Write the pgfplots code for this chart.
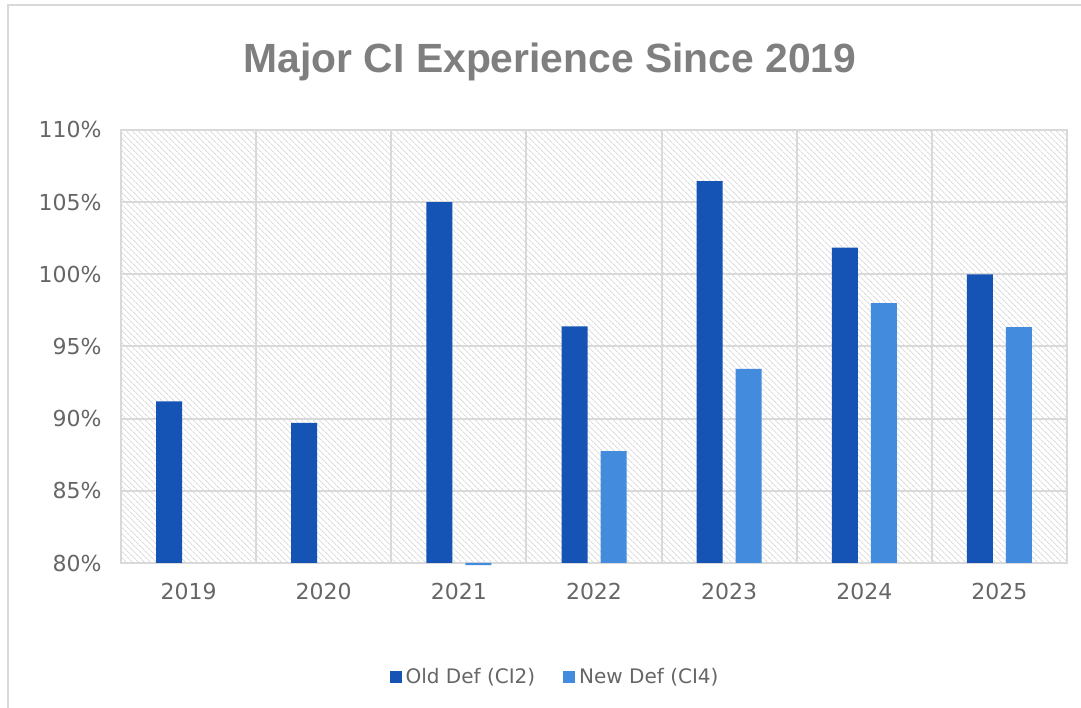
\documentclass[border=0pt]{standalone}
\usepackage{fontspec}
\setmainfont{Liberation Sans}
\newfontfamily\tickfont{DejaVu Sans}
\usepackage{pgfplots}
\usepackage{pgfplotstable}
\pgfplotsset{compat=1.18}
\usetikzlibrary{patterns.meta}
\definecolor{olddef}{HTML}{1554B4}
\definecolor{newdef}{HTML}{428BDD}
\definecolor{tickgray}{HTML}{666666}
\definecolor{titlegray}{HTML}{7F7F7F}
\definecolor{gridgray}{HTML}{D9D9D9}

\pgfplotstableread{
x v
0 91.2
1 89.7
2 105.0
3 96.4
4 106.45
5 101.85
6 100.0
}\olddata
\pgfplotstableread{
x v
2 79.85
3 87.75
4 93.45
5 98.0
6 96.35
}\newdata

\begin{document}
\begin{tikzpicture}
\useasboundingbox (0pt,0pt) rectangle (1081pt,708pt);
\fill[white] (0pt,0pt) rectangle (1081pt,708pt);
\draw[gridgray, line width=2pt] (8pt,-5pt) -- (8pt,703pt) -- (1090pt,703pt);
\node[font={\bfseries\fontsize{40.8pt}{48pt}\selectfont}, text=titlegray, anchor=base] at (550pt,635pt) {Major CI Experience Since 2019};
\begin{axis}[
  at={(121pt,145pt)}, anchor=south west,
  width=946pt, height=433pt, scale only axis,
  xmin=-0.5, xmax=6.5, ymin=0, ymax=30,
  ytick={0,5,...,30},
  /pgf/number format/assume math mode=true,
  yticklabel={\pgfmathparse{\tick+80}\pgfmathprintnumber{\pgfmathresult}\%},
  xtick={0,...,6},
  xticklabels={2019,2020,2021,2022,2023,2024,2025},
  minor xtick={0.5,1.5,...,5.5},
  ymajorgrids, xminorgrids,
  major grid style={draw=gridgray, line width=2pt},
  minor grid style={draw=gridgray, line width=2pt},
  axis line style={draw=gridgray, line width=2pt},
  major tick length=0pt, minor tick length=0pt,
  tick label style={font={\tickfont\fontsize{22pt}{26pt}\selectfont}, text=tickgray},
  yticklabel style={xshift=-16pt},
  xticklabel style={yshift=-17pt},
  ybar=13pt, bar width=26pt,
  clip=false,
  axis background/.style={pattern={Lines[angle=-45,distance=4pt,line width=1pt]}, pattern color=black!14},
  legend columns=2,
  legend style={at={(0.4588,-0.263)}, anchor=center, draw=none, fill=none,
    font={\tickfont\fontsize{20pt}{24pt}\selectfont}, text=tickgray,
    /tikz/every odd column/.append style={column sep=2pt},
    /tikz/every even column/.append style={column sep=26pt}},
  legend image code/.code={\fill[#1] (0pt,-6pt) rectangle (12pt,6pt);},
]
\addplot[fill=olddef, draw=none] table[x=x, y expr=\thisrow{v}-80] {\olddata};
\addlegendentry{Old Def (CI2)}
\addplot[fill=newdef, draw=none] table[x=x, y expr=\thisrow{v}-80] {\newdata};
\addlegendentry{New Def (CI4)}
\end{axis}
\end{tikzpicture}
\end{document}
